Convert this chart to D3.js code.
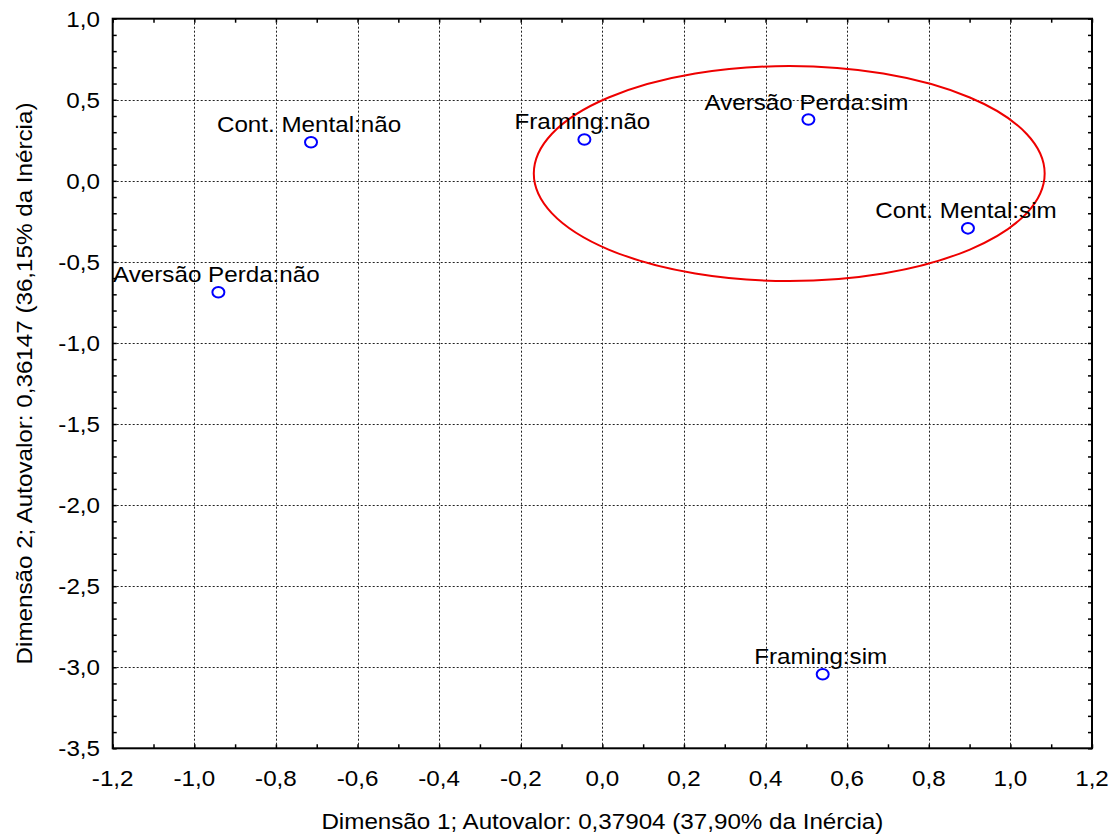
<!DOCTYPE html>
<html>
<head>
<meta charset="utf-8">
<script src="https://cdn.jsdelivr.net/npm/d3@7"></script>
<style>
  html, body { margin: 0; padding: 0; background: #fff; }
  svg { display: block; }
  text { font-family: "Liberation Sans", Arial, sans-serif; fill: #000; }
</style>
</head>
<body>
<script>
// Correspondence analysis: category coordinates on the first two dimensions
const categories = ["Cont. Mental:não", "Framing:não", "Aversão Perda:sim",
                    "Cont. Mental:sim", "Aversão Perda:não", "Framing:sim"];
const dim1 = [-0.714, -0.044, 0.505, 0.896, -0.941, 0.540];
const dim2 = [0.238, 0.255, 0.378, -0.293, -0.687, -3.043];

// Highlighted cluster (ellipse centre and radii in data units)
const clusterCenter = [0.458, 0.045];
const clusterRadii = [0.626, 0.663];

const xTicks = [-1.2, -1.0, -0.8, -0.6, -0.4, -0.2, 0.0, 0.2, 0.4, 0.6, 0.8, 1.0, 1.2];
const yTicks = [1.0, 0.5, 0.0, -0.5, -1.0, -1.5, -2.0, -2.5, -3.0, -3.5];
const xMinor = d3.range(-12, 13).map(d => d / 10);
const yMinor = d3.range(-35, 11).map(d => d / 10);

const xTitle = "Dimensão 1; Autovalor: 0,37904 (37,90% da Inércia)";
const yTitle = "Dimensão 2; Autovalor: 0,36147 (36,15% da Inércia)";

const W = 1117, H = 834;
const m = { left: 112.7, right: 1092, top: 18.7, bottom: 748.3 };
const stretch = 1.1;   // horizontal widening of lettering
const fs = 22;

const loc = d3.formatLocale({ decimal: ",", thousands: ".", grouping: [3], currency: ["", ""], minus: "-" });
const fmt = loc.format(".1f");

const svg = d3.select("body").append("svg").attr("width", W).attr("height", H);

const x = d3.scaleLinear().domain([-1.2, 1.2]).range([m.left, m.right]);
const y = d3.scaleLinear().domain([-3.5, 1.0]).range([m.bottom, m.top]);

// Dotted grid at major ticks
const grid = svg.append("g").attr("stroke", "#222").attr("stroke-width", 1)
  .attr("stroke-dasharray", "2,2");
grid.selectAll("line.vx").data(xTicks.slice(1, -1)).join("line")
  .attr("x1", d => Math.round(x(d)) + 0.5).attr("x2", d => Math.round(x(d)) + 0.5)
  .attr("y1", m.top).attr("y2", m.bottom);
grid.selectAll("line.hy").data(yTicks.slice(1, -1)).join("line")
  .attr("y1", d => Math.round(y(d)) + 0.5).attr("y2", d => Math.round(y(d)) + 0.5)
  .attr("x1", m.left).attr("x2", m.right);

// Inward ticks on all four sides
const tickLen = 4;
const bottomAxis = d3.axisBottom(x).tickValues(xMinor).tickSize(-tickLen).tickFormat("");
const topAxis = d3.axisTop(x).tickValues(xMinor).tickSize(-tickLen).tickFormat("");
const leftAxis = d3.axisLeft(y).tickValues(yMinor).tickSize(-tickLen).tickFormat("");
const rightAxis = d3.axisRight(y).tickValues(yMinor).tickSize(-tickLen).tickFormat("");
function styleAxis(g) {
  g.select(".domain").remove();
  g.selectAll(".tick line").attr("stroke", "#000").attr("stroke-width", 1.5);
}
svg.append("g").attr("transform", `translate(0,${m.bottom})`).call(bottomAxis).call(styleAxis);
svg.append("g").attr("transform", `translate(0,${m.top})`).call(topAxis).call(styleAxis);
svg.append("g").attr("transform", `translate(${m.left},0)`).call(leftAxis).call(styleAxis);
svg.append("g").attr("transform", `translate(${m.right},0)`).call(rightAxis).call(styleAxis);

// Frame
svg.append("rect")
  .attr("x", m.left).attr("y", m.top)
  .attr("width", m.right - m.left).attr("height", m.bottom - m.top)
  .attr("fill", "none").attr("stroke", "#000").attr("stroke-width", 2);

// Helper: stretched text anchored at (px, py)
function label(parent, px, py, str, anchor, rotate) {
  const g = parent.append("g")
    .attr("transform", `translate(${px},${py})` + (rotate ? ` rotate(${rotate})` : "") + ` scale(${stretch},1)`);
  g.append("text").attr("text-anchor", anchor).attr("font-size", fs).text(str);
  return g;
}

// Tick labels
const xl = svg.append("g");
xTicks.forEach(v => label(xl, x(v), 786, fmt(v), "middle"));
const yl = svg.append("g");
yTicks.forEach(v => label(yl, 100, y(v) + 8, fmt(v), "end"));

// Axis titles
label(svg, (m.left + m.right) / 2, 829, xTitle, "middle");
label(svg, 32, (m.top + m.bottom) / 2, yTitle, "middle", -90);

// Cluster ellipse
svg.append("ellipse")
  .attr("cx", x(clusterCenter[0])).attr("cy", y(clusterCenter[1]))
  .attr("rx", x(clusterCenter[0] + clusterRadii[0]) - x(clusterCenter[0]))
  .attr("ry", y(clusterCenter[1]) - y(clusterCenter[1] + clusterRadii[1]))
  .attr("fill", "none").attr("stroke", "#ee0000").attr("stroke-width", 2);

// Points and labels
const pts = categories.map((c, i) => ({ name: c, d1: dim1[i], d2: dim2[i] }));
svg.append("g").selectAll("ellipse").data(pts).join("ellipse")
  .attr("cx", d => x(d.d1)).attr("cy", d => y(d.d2))
  .attr("rx", 6).attr("ry", 5.3)
  .attr("fill", "#fff").attr("stroke", "#0000ff").attr("stroke-width", 2);
const pl = svg.append("g");
pts.forEach(d => label(pl, x(d.d1) - 2, y(d.d2) - 10, d.name, "middle"));
</script>
</body>
</html>
